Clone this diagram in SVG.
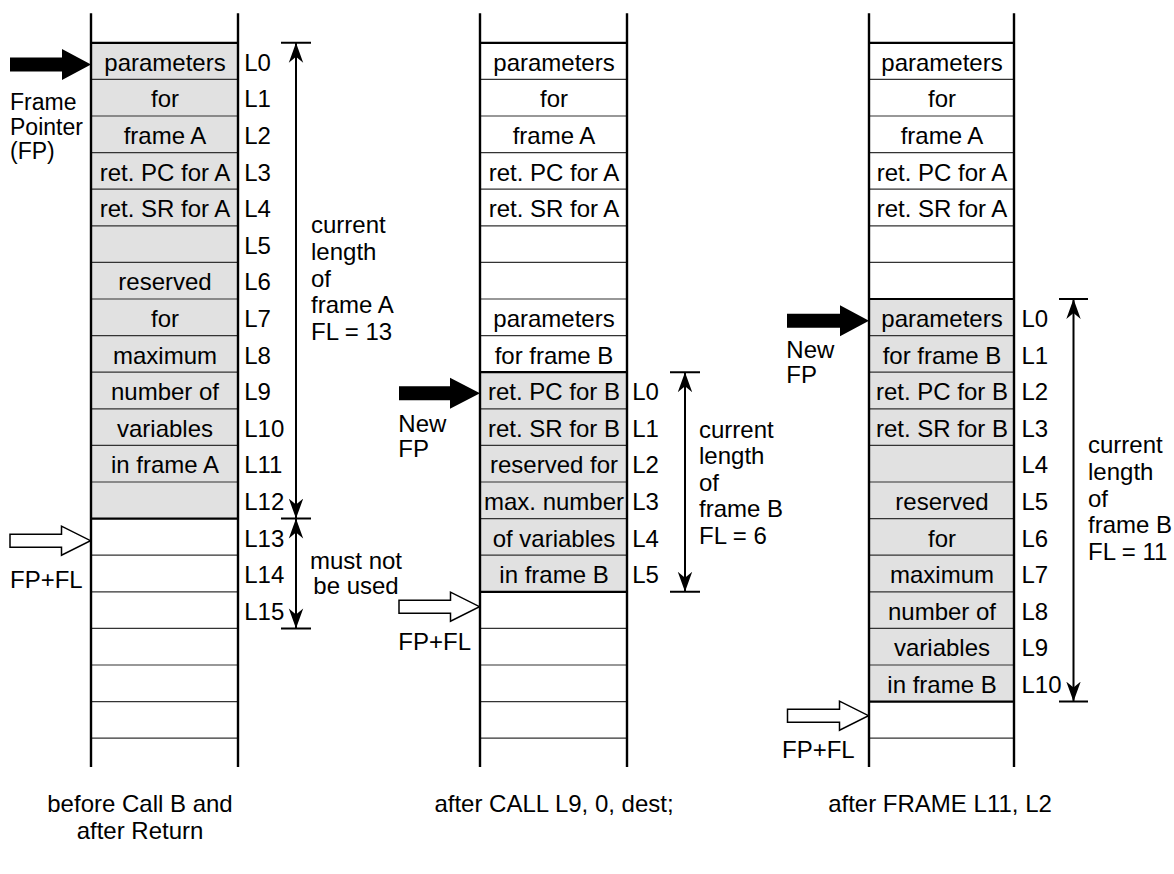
<svg xmlns="http://www.w3.org/2000/svg" width="1174" height="874" viewBox="0 0 1174 874">
<style>
  text{font-family:"Liberation Sans",Arial,Helvetica,sans-serif;font-size:24px;fill:#000}
  .c{text-anchor:middle}
  .s{font-size:23px}
  .gray{fill:#e1e1e1;stroke:none}
  .thin{stroke:#333;stroke-width:1.2;fill:none}
  .bold{stroke:#000;stroke-width:2.2;fill:none}
  .vert{stroke:#000;stroke-width:2.4;fill:none}
  .dim{stroke:#000;stroke-width:2;fill:none}
  .fp{fill:#000;stroke:none}
  .hollow{fill:#fff;stroke:#000;stroke-width:1.5}
</style>
<defs>
  <marker id="ah" markerUnits="userSpaceOnUse" markerWidth="22" markerHeight="16" refX="20" refY="8" orient="auto-start-reverse" viewBox="0 0 22 16">
    <path d="M20,8 L0,0.8 L6,8 L0,15.2 Z" fill="#000"/>
  </marker>
</defs>

<g id="stack-before">
  <rect class="gray" x="91" y="42.8" width="147" height="475.8"/>
  <path class="thin" d="M91,79.4H238M91,116H238M91,152.6H238M91,189.2H238M91,225.8H238M91,262.4H238M91,299H238M91,335.6H238M91,372.2H238M91,408.8H238M91,445.4H238M91,482H238M91,555.2H238M91,591.8H238M91,628.4H238M91,665H238M91,701.6H238M91,738.2H238"/>
  <path class="bold" d="M91,42.8H238M91,518.6H238"/>
  <path class="vert" d="M91,13.3V767M238,13.3V767"/>
  <text class="c" x="165" y="70.8">parameters</text>
  <text class="c" x="165" y="107.4">for</text>
  <text class="c" x="165" y="144">frame A</text>
  <text class="c" x="165" y="180.6">ret. PC for A</text>
  <text class="c" x="165" y="217.2">ret. SR for A</text>
  <text class="c" x="165" y="290.4">reserved</text>
  <text class="c" x="165" y="327">for</text>
  <text class="c" x="165" y="363.6">maximum</text>
  <text class="c" x="165" y="400.2">number of</text>
  <text class="c" x="165" y="436.8">variables</text>
  <text class="c" x="165" y="473.4">in frame A</text>
  <text x="244.2" y="70.8">L0</text>
  <text x="244.2" y="107.4">L1</text>
  <text x="244.2" y="144">L2</text>
  <text x="244.2" y="180.6">L3</text>
  <text x="244.2" y="217.2">L4</text>
  <text x="244.2" y="253.8">L5</text>
  <text x="244.2" y="290.4">L6</text>
  <text x="244.2" y="327">L7</text>
  <text x="244.2" y="363.6">L8</text>
  <text x="244.2" y="400.2">L9</text>
  <text x="244.2" y="436.8">L10</text>
  <text x="244.2" y="473.4">L11</text>
  <text x="244.2" y="510">L12</text>
  <text x="244.2" y="546.6">L13</text>
  <text x="244.2" y="583.2">L14</text>
  <text x="244.2" y="619.8">L15</text>
</g>

<g id="stack-after-call">
  <rect class="gray" x="480" y="372.2" width="147" height="219.6"/>
  <path class="thin" d="M480,79.4H627M480,116H627M480,152.6H627M480,189.2H627M480,225.8H627M480,262.4H627M480,299H627M480,335.6H627M480,408.8H627M480,445.4H627M480,482H627M480,518.6H627M480,555.2H627M480,628.4H627M480,665H627M480,701.6H627M480,738.2H627"/>
  <path class="bold" d="M480,42.8H627M480,372.2H627M480,591.8H627"/>
  <path class="vert" d="M480,13.3V767M627,13.3V767"/>
  <text class="c" x="554" y="70.8">parameters</text>
  <text class="c" x="554" y="107.4">for</text>
  <text class="c" x="554" y="144">frame A</text>
  <text class="c" x="554" y="180.6">ret. PC for A</text>
  <text class="c" x="554" y="217.2">ret. SR for A</text>
  <text class="c" x="554" y="327">parameters</text>
  <text class="c" x="554" y="363.6">for frame B</text>
  <text class="c" x="554" y="400.2">ret. PC for B</text>
  <text class="c" x="554" y="436.8">ret. SR for B</text>
  <text class="c" x="554" y="473.4">reserved for</text>
  <text class="c" x="554" y="510">max. number</text>
  <text class="c" x="554" y="546.6">of variables</text>
  <text class="c" x="554" y="583.2">in frame B</text>
  <text x="632.2" y="400.2">L0</text>
  <text x="632.2" y="436.8">L1</text>
  <text x="632.2" y="473.4">L2</text>
  <text x="632.2" y="510">L3</text>
  <text x="632.2" y="546.6">L4</text>
  <text x="632.2" y="583.2">L5</text>
</g>

<g id="stack-after-frame">
  <rect class="gray" x="869" y="299" width="145" height="402.6"/>
  <path class="thin" d="M869,79.4H1014M869,116H1014M869,152.6H1014M869,189.2H1014M869,225.8H1014M869,262.4H1014M869,335.6H1014M869,372.2H1014M869,408.8H1014M869,445.4H1014M869,482H1014M869,518.6H1014M869,555.2H1014M869,591.8H1014M869,628.4H1014M869,665H1014M869,738.2H1014"/>
  <path class="bold" d="M869,42.8H1014M869,299H1014M869,701.6H1014"/>
  <path class="vert" d="M869,13.3V767M1014,13.3V767"/>
  <text class="c" x="942" y="70.8">parameters</text>
  <text class="c" x="942" y="107.4">for</text>
  <text class="c" x="942" y="144">frame A</text>
  <text class="c" x="942" y="180.6">ret. PC for A</text>
  <text class="c" x="942" y="217.2">ret. SR for A</text>
  <text class="c" x="942" y="327">parameters</text>
  <text class="c" x="942" y="363.6">for frame B</text>
  <text class="c" x="942" y="400.2">ret. PC for B</text>
  <text class="c" x="942" y="436.8">ret. SR for B</text>
  <text class="c" x="942" y="510">reserved</text>
  <text class="c" x="942" y="546.6">for</text>
  <text class="c" x="942" y="583.2">maximum</text>
  <text class="c" x="942" y="619.8">number of</text>
  <text class="c" x="942" y="656.4">variables</text>
  <text class="c" x="942" y="693">in frame B</text>
  <text x="1021.5" y="327">L0</text>
  <text x="1021.5" y="363.6">L1</text>
  <text x="1021.5" y="400.2">L2</text>
  <text x="1021.5" y="436.8">L3</text>
  <text x="1021.5" y="473.4">L4</text>
  <text x="1021.5" y="510">L5</text>
  <text x="1021.5" y="546.6">L6</text>
  <text x="1021.5" y="583.2">L7</text>
  <text x="1021.5" y="619.8">L8</text>
  <text x="1021.5" y="656.4">L9</text>
  <text x="1021.5" y="693">L10</text>
</g>

<g id="pointers">
  <polygon class="fp" points="10,57.5 62,57.5 62,49 91,64.5 62,80 62,71.5 10,71.5"/>
  <polygon class="fp" points="399,386.3 450,386.3 450,377.8 480,393.3 450,408.8 450,400.3 399,400.3"/>
  <polygon class="fp" points="787,313.7 840,313.7 840,305.2 869,320.7 840,336.2 840,327.7 787,327.7"/>
  <polygon class="hollow" points="10,534.2 61.5,534.2 61.5,526.2 90.5,540.7 61.5,555.2 61.5,547.2 10,547.2"/>
  <polygon class="hollow" points="399,600.2 450.5,600.2 450.5,592.2 479.5,606.7 450.5,621.2 450.5,613.2 399,613.2"/>
  <polygon class="hollow" points="787.5,709.2 839.5,709.2 839.5,701.2 868.5,715.7 839.5,730.2 839.5,722.2 787.5,722.2"/>
</g>

<g id="connectors">
  <path class="dim" d="M281,42.8H311M281,518.6H311M281,628.4H311"/>
  <line class="dim" x1="296" y1="42.8" x2="296" y2="518.6" marker-start="url(#ah)" marker-end="url(#ah)"/>
  <line class="dim" x1="296" y1="518.6" x2="296" y2="628.4" marker-start="url(#ah)" marker-end="url(#ah)"/>
  <path class="dim" d="M670,372.2H700M670,591.8H700"/>
  <line class="dim" x1="685" y1="372.2" x2="685" y2="591.8" marker-start="url(#ah)" marker-end="url(#ah)"/>
  <path class="dim" d="M1059,299H1088M1059,701.6H1088"/>
  <line class="dim" x1="1073.5" y1="299" x2="1073.5" y2="701.6" marker-start="url(#ah)" marker-end="url(#ah)"/>
</g>

<g id="labels">
  <text class="s" x="10" y="110">Frame</text>
  <text class="s" x="10" y="134.5">Pointer</text>
  <text class="s" x="10" y="159">(FP)</text>
  <text x="10" y="588">FP+FL</text>
  <text x="398.3" y="431.7">New</text>
  <text x="398.3" y="456.7">FP</text>
  <text x="398.3" y="650">FP+FL</text>
  <text x="786.3" y="358.3">New</text>
  <text x="786.3" y="383.3">FP</text>
  <text x="782" y="758">FP+FL</text>
  <text class="c" x="356" y="569.3">must not</text>
  <text class="c" x="356" y="594">be used</text>
  <text x="311" y="233.3">current</text>
  <text x="311" y="260">length</text>
  <text x="311" y="286.7">of</text>
  <text x="311" y="313.3">frame A</text>
  <text x="311" y="340">FL = 13</text>
  <text x="699" y="437.5">current</text>
  <text x="699" y="464">length</text>
  <text x="699" y="490.5">of</text>
  <text x="699" y="517">frame B</text>
  <text x="699" y="543.5">FL = 6</text>
  <text x="1088" y="453.3">current</text>
  <text x="1088" y="480">length</text>
  <text x="1088" y="506.7">of</text>
  <text x="1088" y="533.3">frame B</text>
  <text x="1088" y="560">FL = 11</text>
  <text class="c" x="140" y="812">before Call B and</text>
  <text class="c" x="140" y="839">after Return</text>
  <text class="c" x="554" y="812">after CALL L9, 0, dest;</text>
  <text class="c" x="940" y="812">after FRAME L11, L2</text>
</g>
</svg>
